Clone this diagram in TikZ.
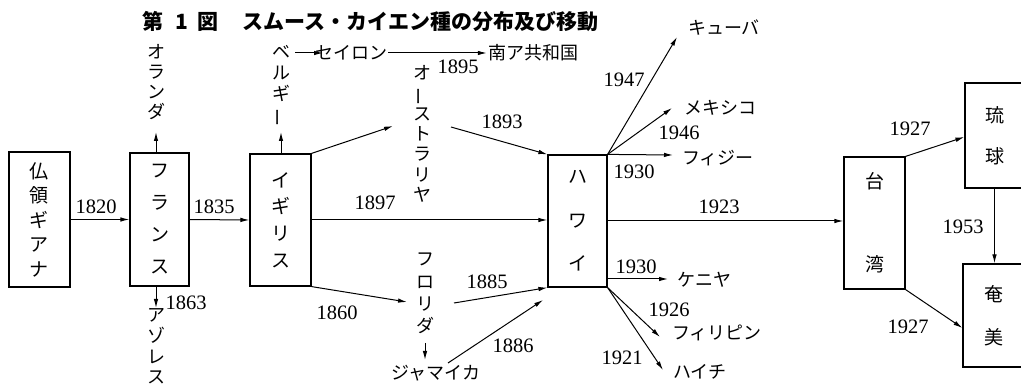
\documentclass[tikz,border=0pt]{standalone}
\usepackage{fontspec}
\usepackage{graphicx}
\usetikzlibrary{arrows.meta}
\newfontfamily\jp{Noto Sans CJK JP}
\newfontfamily\numfont{Liberation Serif}
\newcommand{\vbar}{\rotatebox[origin=c]{90}{ー}}
\tikzset{
  box/.style={draw, line width=1.2pt, inner sep=0pt, align=center},
  lab/.style={inner sep=0pt, font=\jp\fontsize{18}{18}\selectfont},
  vlab/.style={inner sep=0pt, align=center},
  num/.style={inner sep=0pt, font=\numfont\fontsize{20.5}{20.5}\selectfont},
  arr/.style={-{Latex[length=9pt,width=4.5pt]}, line width=1pt}
}
\begin{document}
\begin{tikzpicture}[x=1pt,y=-1pt]
\useasboundingbox (0,0) rectangle (1021,387);
\clip (0,0) rectangle (1021,387);
% title
\node[inner sep=0pt, anchor=west, font=\jp\bfseries\fontsize{21}{21}\selectfont] (title) at (142,22)
  {第\hspace{12pt}\textbf{1}\hspace{10pt}図\hspace{24pt}スムース・カイエン種の分布及び移動};
% boxes
\node[box, minimum width=61pt, minimum height=135pt, font=\jp\fontsize{19}{24.5}\selectfont] (guiana) at (39.5,219.5) {仏\\領\\ギ\\ア\\ナ};
\node[box, minimum width=59pt, minimum height=133pt, font=\jp\fontsize{19}{32}\selectfont] (france) at (159.5,219.5) {フ\\ラ\\ン\\ス};
\node[box, minimum width=61pt, minimum height=132pt, font=\jp\fontsize{19}{26.7}\selectfont] (brit) at (280.5,220) {イ\\ギ\\リ\\ス};
\node[box, minimum width=59pt, minimum height=132pt, font=\jp\fontsize{19}{43.5}\selectfont] (hawaii) at (577.5,221) {ハ\\ワ\\イ};
\node[box, minimum width=61pt, minimum height=132pt, font=\jp\fontsize{19}{83}\selectfont] (taiwan) at (874.5,223) {台\\湾};
\node[box, minimum width=59pt, minimum height=105pt, font=\jp\fontsize{19}{41}\selectfont] (ryukyu) at (994.5,135.5) {琉\\球};
\node[box, minimum width=61pt, minimum height=103pt, font=\jp\fontsize{19}{43}\selectfont] (amami) at (993.5,315.5) {奄\\美};
% vertical labels
\node[vlab, font=\jp\fontsize{18}{20}\selectfont] (oranda) at (156,82) {オ\\ラ\\ン\\ダ};
\node[vlab, font=\jp\fontsize{18}{20.7}\selectfont] (belgium) at (281,86) {ベ\\ル\\ギ\\\vbar};
\node[vlab, font=\jp\fontsize{18}{20.3}\selectfont] (australia) at (422,134) {オ\\\vbar\\ス\\ト\\ラ\\リ\\ヤ};
\node[vlab, font=\jp\fontsize{18}{22.3}\selectfont] (florida) at (425,293.5) {フ\\ロ\\リ\\ダ};
\node[vlab, font=\jp\fontsize{18}{20.7}\selectfont] (azores) at (156,346.5) {ア\\ゾ\\レ\\ス};
% horizontal labels
\node[lab] (ceylon) at (351,53) {セイロン};
\node[lab] (safrica) at (533,53) {南ア共和国};
\node[lab] (cuba) at (724,28) {キューバ};
\node[lab] (mexico) at (720,108) {メキシコ};
\node[lab] (fiji) at (718,158) {フィジー};
\node[lab] (kenya) at (704,280) {ケニヤ};
\node[lab] (philippines) at (717,333) {フィリピン};
\node[lab] (haiti) at (700,372) {ハイチ};
\node[lab] (jamaica) at (436,373) {ジャマイカ};
% numbers
\node[num] (n1820) at (96,207) {1820};
\node[num] (n1835) at (214,207) {1835};
\node[num] (n1863) at (186,303) {1863};
\node[num] (n1897) at (375,203) {1897};
\node[num] (n1860) at (337,313) {1860};
\node[num] (n1885) at (487,282) {1885};
\node[num] (n1886) at (513,346) {1886};
\node[num] (n1893) at (502,122) {1893};
\node[num] (n1895) at (458,67) {1895};
\node[num] (n1947) at (624,80) {1947};
\node[num] (n1946) at (679,133) {1946};
\node[num] (n1930a) at (634,172) {1930};
\node[num] (n1923) at (719,207) {1923};
\node[num] (n1930b) at (636,267) {1930};
\node[num] (n1926) at (669,310) {1926};
\node[num] (n1921) at (622,358) {1921};
\node[num] (n1927a) at (910,129) {1927};
\node[num] (n1953) at (963,227) {1953};
\node[num] (n1927b) at (908,327) {1927};
% coordinates for free arrow ends
\coordinate (orTip) at (156,132);
\coordinate (beTip) at (281,132);
\coordinate (azTip) at (156,308);
\coordinate (beR) at (295,53);
\coordinate (ceL) at (323,53);
\coordinate (ausIn) at (393,126);
\coordinate (ausOut) at (451,127);
\coordinate (flaIn) at (407,302);
\coordinate (flaOut) at (454,303);
\coordinate (flaDn1) at (425,343);
\coordinate (flaDn2) at (425,360);
\coordinate (jamOut) at (448,363);
\coordinate (jamTip) at (543,300);
\coordinate (cubaTip) at (677,37);
\coordinate (mexTip) at (672,108);
\coordinate (fijiTip) at (673,155);
\coordinate (kenyaTip) at (668,279);
\coordinate (phTip) at (660,337);
\coordinate (haitiTip) at (663,370);
% connectors
\draw[arr] (guiana.east) -- (france.west);
\draw[arr] (france.east) -- (brit.west);
\draw[arr] (orTip |- france.north) -- (orTip);
\draw[arr] (azTip |- france.south) -- (azTip);
\draw[arr] (beTip |- brit.north) -- (beTip);
\draw[arr] (beR) -- (ceL);
\draw[arr, shorten <=1pt, shorten >=1pt] (ceylon.east) -- (safrica.west);
\draw[arr] (brit.north east) -- (ausIn);
\draw[arr] (ausOut) -- (hawaii.north west);
\draw[arr] (brit.east) -- (brit.east -| hawaii.west);
\draw[arr] (brit.south east) -- (flaIn);
\draw[arr] (flaOut) -- (hawaii.south west);
\draw[arr] (flaDn1) -- (flaDn2);
\draw[arr] (jamOut) -- (jamTip);
\draw[arr] (hawaii.north east) -- (cubaTip);
\draw[arr] (hawaii.north east) -- (mexTip);
\draw[arr] (hawaii.north east) -- (fijiTip);
\draw[arr] (hawaii.east |- kenyaTip) -- (kenyaTip);
\draw[arr] (hawaii.south east) -- (phTip);
\draw[arr] (hawaii.south east) -- (haitiTip);
\draw[arr] (hawaii.east) -- (hawaii.east -| taiwan.west);
\draw[arr] (taiwan.north east) -- ([yshift=-1.5pt]ryukyu.west);
\draw[arr] (taiwan.south east) -- ([yshift=-12.5pt]amami.west);
\draw[arr] (ryukyu.south) -- (ryukyu.south |- amami.north);
\end{tikzpicture}
\end{document}
